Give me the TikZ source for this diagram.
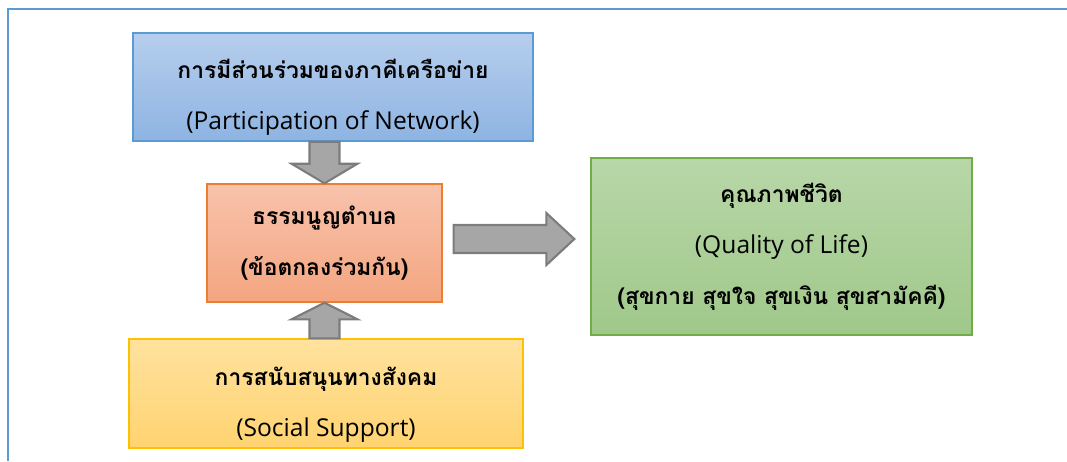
\documentclass[tikz,border=0pt]{standalone}
\usepackage{fontspec}
\setmainfont{Open Sans}
\newfontfamily\thaifont[Script=Thai]{Loma}
\usepackage{tikz}
\usetikzlibrary{positioning,calc}

\definecolor{frameblue}{RGB}{91,155,213}
\definecolor{bluetop}{RGB}{182,206,236}
\definecolor{bluebot}{RGB}{142,180,227}
\definecolor{orgtop}{RGB}{248,195,172}
\definecolor{orgbot}{RGB}{244,165,128}
\definecolor{orgline}{RGB}{237,125,49}
\definecolor{yeltop}{RGB}{255,226,158}
\definecolor{yelbot}{RGB}{255,211,112}
\definecolor{yelline}{RGB}{255,192,0}
\definecolor{grntop}{RGB}{184,215,168}
\definecolor{grnbot}{RGB}{160,200,138}
\definecolor{grnline}{RGB}{112,173,71}
\definecolor{arrfill}{RGB}{166,166,166}
\definecolor{arrline}{RGB}{124,124,124}

\newcommand{\thtxt}[1]{{\thaifont\bfseries\fontsize{13}{29}\selectfont #1}}
\newcommand{\lowtop}{\rule{0pt}{23pt}}

\begin{document}
\begin{tikzpicture}[x=0.02cm, y=-0.02cm]
        \tikzstyle{box}=[rectangle, line width=0.8pt, inner sep=0pt, align=center,
                font=\fontsize{14}{29}\selectfont]
        \tikzstyle{blockarr}=[fill=arrfill, draw=arrline, line width=1.2pt, line join=miter]

        \useasboundingbox (0,0) rectangle (1067,461);
        \draw[frameblue, line width=1.2pt] (8,461) -- (8,9) -- (1067,9);

        \node[box, draw=frameblue, top color=bluetop, bottom color=bluebot,
              minimum width=8cm, minimum height=2.16cm] (net) at (333,87)
              {\lowtop\thtxt{การมีส่วนร่วมของภาคีเครือข่าย}\\(Participation of Network)};
        \node[box, draw=orgline, top color=orgtop, bottom color=orgbot,
              minimum width=4.7cm, minimum height=2.36cm] (rule) at (324.5,243)
              {\thtxt{ธรรมนูญตำบล}\\\thtxt{(ข้อตกลงร่วมกัน)}};
        \node[box, draw=yelline, top color=yeltop, bottom color=yelbot,
              minimum width=7.88cm, minimum height=2.18cm] (sup) at (326,393.5)
              {\lowtop\thtxt{การสนับสนุนทางสังคม}\\(Social Support)};
        \node[box, draw=grnline, top color=grntop, bottom color=grnbot,
              minimum width=7.62cm, minimum height=3.54cm] (life) at (781.5,246.5)
              {\thtxt{คุณภาพชีวิต}\\(Quality of Life)\\\thtxt{(สุขกาย สุขใจ สุขเงิน สุขสามัคคี)}};

        % down arrow
        \coordinate (d) at (net.south -| rule.north);
        \draw[blockarr] ($(d)+(-15,0)$) -- ($(d)+(15,0)$) -- ($(d)+(15,22)$) -- ($(d)+(33,22)$)
              -- (rule.north) -- ($(d)+(-33,22)$) -- ($(d)+(-15,22)$) -- cycle;
        % up arrow
        \coordinate (u) at (sup.north -| rule.south);
        \draw[blockarr] ($(u)+(-15,0)$) -- ($(u)+(15,0)$) -- ($(u)+(15,-19)$) -- ($(u)+(33,-19)$)
              -- (rule.south) -- ($(u)+(-33,-19)$) -- ($(u)+(-15,-19)$) -- cycle;
        % right arrow
        \coordinate (r) at ($(rule.east)+(11,-4)$);
        \coordinate (rt) at ($(life.west |- r)+(-16,0)$);
        \draw[blockarr] ($(r)+(0,-14)$) -- ($(rt)+(-28,-14)$) -- ($(rt)+(-28,-26)$) -- (rt)
              -- ($(rt)+(-28,26)$) -- ($(rt)+(-28,14)$) -- ($(r)+(0,14)$) -- cycle;
    \end{tikzpicture}
\end{document}
